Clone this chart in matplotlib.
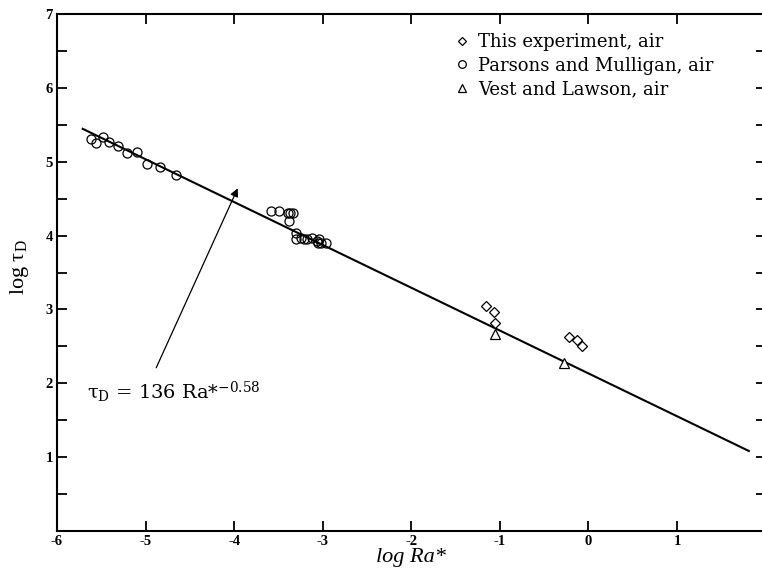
import numpy as np
import matplotlib
matplotlib.use('Agg')
import matplotlib.pyplot as plt

plt.rcParams['font.family'] = 'Liberation Serif'
plt.rcParams['mathtext.fontset'] = 'custom'
plt.rcParams['mathtext.rm'] = 'Liberation Serif'
plt.rcParams['mathtext.it'] = 'Liberation Serif:italic'
plt.rcParams['axes.unicode_minus'] = False

# Parsons and Mulligan, air
pm_x = [-5.62, -5.56, -5.48, -5.41, -5.31, -5.21, -5.10, -4.98, -4.84, -4.66,
        -3.58, -3.49, -3.39, -3.34, -3.37, -3.38,
        -3.30, -3.30, -3.25, -3.21, -3.18, -3.12, -3.07, -3.04, -3.05, -3.02, -2.96]
pm_y = [5.31, 5.25, 5.33, 5.27, 5.21, 5.12, 5.13, 4.97, 4.93, 4.82,
        4.33, 4.33, 4.31, 4.31, 4.30, 4.20,
        4.04, 3.96, 3.97, 3.96, 3.96, 3.97, 3.93, 3.96, 3.90, 3.90, 3.90]

# This experiment, air
ex_x = [-1.16, -1.07, -1.05, -0.22, -0.13, -0.07]
ex_y = [3.04, 2.97, 2.82, 2.63, 2.59, 2.50]

# Vest and Lawson, air
vl_x = [-1.05, -0.28]
vl_y = [2.67, 2.27]

# fit: tau_D = 136 Ra*^-0.58
coef = 136
expo = -0.58
fit_range = [-5.71, 1.81]

fig = plt.figure(figsize=(7.62, 5.74), dpi=100)
ax = fig.add_axes([0.0748, 0.0749, 0.93, 0.9007])

xf = np.array(fit_range)
ax.plot(xf, np.log10(coef) + expo * xf, color='black', lw=1.5)

ax.plot(ex_x, ex_y, linestyle='none', marker='D', markersize=5, mfc='white',
        mec='black', mew=0.9, label='This experiment, air')
ax.plot(pm_x, pm_y, linestyle='none', marker='o', markersize=6.5, mfc='none',
        mec='black', mew=0.9, label='Parsons and Mulligan, air')
ax.plot(vl_x, vl_y, linestyle='none', marker='^', markersize=6.5, mfc='white',
        mec='black', mew=0.9, label='Vest and Lawson, air')

ax.set_xlim(-6, 2)
ax.set_ylim(0, 7)
ax.set_xticks([-6, -5, -4, -3, -2, -1, 0, 1])
ax.set_yticks([1, 2, 3, 4, 5, 6, 7])
ax.set_yticks(np.arange(0.5, 7, 1), minor=True)
ax.tick_params(which='both', direction='in', top=True, right=True, width=1.3,
               length=7)
ax.tick_params(which='major', labelsize=10.5, pad=3)
for lbl in ax.get_xticklabels() + ax.get_yticklabels():
    lbl.set_fontweight('bold')
for s in ax.spines.values():
    s.set_linewidth(1.5)

ax.set_xlabel('log Ra*', fontsize=16, style='italic', labelpad=0)
ax.set_ylabel(r'log $\mathregular{\tau_D}$', fontsize=16)
ax.yaxis.set_label_coords(-0.036, 0.51)

# fit label and arrow pointing at the line
ax.text(-5.66, 1.88, r'$\mathregular{\tau_D}$ = 136 Ra*$^{\mathregular{-0.58}}$',
        fontsize=14, family='DejaVu Serif', ha='left', va='center')
ax.annotate('', xy=(-3.96, 4.64), xytext=(-4.88, 2.21),
            arrowprops=dict(arrowstyle='-|>', color='black', lw=0.9,
                            shrinkA=0, shrinkB=0, mutation_scale=12))

leg = ax.legend(loc='upper left', bbox_to_anchor=(0.594, 0.942),
                bbox_transform=fig.transFigure, frameon=False,
                prop={'family': 'DejaVu Serif', 'size': 13},
                handletextpad=0.4, labelspacing=0.3, handlelength=1.0,
                borderpad=0, borderaxespad=0, markerscale=0.85)

fig.savefig('out.png', dpi=100)
